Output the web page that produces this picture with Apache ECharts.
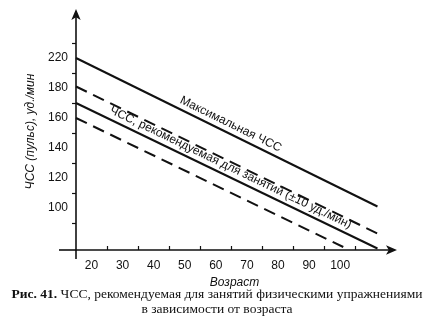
<!DOCTYPE html>
<html>
<head>
<meta charset="utf-8">
<script src="https://cdn.jsdelivr.net/npm/echarts@6/dist/echarts.min.js"></script>
<style>
html,body{margin:0;padding:0;background:#fff;}
#c{width:434px;height:328px;}
</style>
</head>
<body>
<div id="c"></div>
<script>
// ---- data ----
const xLabelAges = [20, 30, 40, 50, 60, 70, 80, 90, 100];
const xTickAges = [25, 35, 45, 55, 65, 75, 85, 95, 105];
const yLabelValues = [100, 120, 140, 160, 180, 200];
const yTickLabels = ['100', '120', '140', '160', '180', '220'];
const yTickValues = [90, 110, 130, 150, 170, 190, 210];

const maxHrAge = [15, 112];
const maxHrVal = [200, 101];
const upperAge = [15, 112];
const upperVal = [181, 83];
const recAge = [15, 112];
const recVal = [170, 73];
const lowerAge = [15, 101];
const lowerVal = [160, 74];

const maxHrLabel = 'Максимальная ЧСС';
const recLabel = 'ЧСС, рекомендуемая для занятий (±10 уд./мин)';
const yName = 'ЧСС (пульс), уд./мин';
const xName = 'Возраст';
const captionBold = 'Рис. 41.';
const captionRest = ' ЧСС, рекомендуемая для занятий физическими упражнениями';
const captionLine2 = 'в зависимости от возраста';

const pairs = (xs, ys) => xs.map((x, i) => [x, ys[i]]);

const ink = '#111';
const chart = echarts.init(document.getElementById('c'), null, {renderer: 'canvas'});

function lineSeries(name, data, dashed, label) {
  const s = {
    name: name,
    type: 'line',
    data: data,
    symbol: 'none',
    silent: true,
    lineStyle: {color: ink, width: 2, type: dashed ? [12, 7] : 'solid'}
  };
  if (label) {
    s.markLine = {
      silent: true,
      symbol: ['none', 'none'],
      lineStyle: {color: 'rgba(0,0,0,0)', width: 1, type: 'solid'},
      label: {
        show: true,
        position: 'insideMiddleTop',
        distance: 3,
        formatter: label,
        color: ink,
        fontFamily: 'Liberation Sans',
        fontSize: 12
      },
      data: [[{coord: data[0]}, {coord: data[data.length - 1]}]]
    };
  }
  return s;
}

chart.setOption({
  animation: false,
  backgroundColor: '#fff',
  title: {
    left: 'center',
    top: 282,
    text: '{b|' + captionBold + '}{n|' + captionRest + '}\n{n|' + captionLine2 + '}',
    textStyle: {
      fontWeight: 'normal',
      rich: {
        b: {fontFamily: 'Liberation Serif', fontSize: 13.5, fontWeight: 'bold', color: ink, lineHeight: 15},
        n: {fontFamily: 'Liberation Serif', fontSize: 13.5, fontWeight: 'normal', color: ink, lineHeight: 15}
      }
    }
  },
  grid: {left: 76, right: 41, top: 13, bottom: 78},
  xAxis: {
    type: 'value',
    min: 15,
    max: 117,
    name: xName,
    nameLocation: 'middle',
    nameGap: 21,
    nameTextStyle: {fontFamily: 'Liberation Sans', fontStyle: 'italic', fontSize: 12, color: ink},
    axisLine: {show: true, lineStyle: {color: ink, width: 1.6}, symbol: ['none', 'arrow'], symbolSize: [7, 11], symbolOffset: [0, 4]},
    axisTick: {show: true, inside: true, length: 4, lineStyle: {color: ink, width: 1.2}, customValues: xTickAges},
    axisLabel: {customValues: xLabelAges, color: ink, fontFamily: 'Liberation Sans', fontSize: 12, margin: 10},
    splitLine: {show: false}
  },
  yAxis: {
    type: 'value',
    min: 72,
    max: 230,
    name: yName,
    nameLocation: 'middle',
    nameRotate: 90,
    nameGap: 32,
    nameTextStyle: {fontFamily: 'Liberation Sans', fontStyle: 'italic', fontSize: 12, color: ink},
    axisLine: {show: true, lineStyle: {color: ink, width: 1.6}, symbol: ['none', 'arrow'], symbolSize: [7, 11], symbolOffset: [0, 4]},
    axisTick: {show: true, length: 4, lineStyle: {color: ink, width: 1.2}, customValues: yTickValues},
    axisLabel: {
      customValues: yLabelValues,
      color: ink, fontFamily: 'Liberation Sans', fontSize: 12, margin: 8,
      formatter: function (v) {
        const i = yLabelValues.indexOf(v);
        return i >= 0 ? yTickLabels[i] : '';
      }
    },
    splitLine: {show: false}
  },
  series: [
    lineSeries('max', pairs(maxHrAge, maxHrVal), false, maxHrLabel),
    lineSeries('upper', pairs(upperAge, upperVal), true, null),
    lineSeries('rec', pairs(recAge, recVal), false, recLabel),
    lineSeries('lower', pairs(lowerAge, lowerVal), true, null)
  ]
});

// axis overhangs past the origin
const o = chart.convertToPixel({gridIndex: 0}, [15, 72]);
chart.setOption({
  graphic: [
    {type: 'line', shape: {x1: o[0] - 17, y1: o[1], x2: o[0], y2: o[1]}, style: {stroke: ink, lineWidth: 1.6}, silent: true},
    {type: 'line', shape: {x1: o[0], y1: o[1], x2: o[0], y2: o[1] + 9}, style: {stroke: ink, lineWidth: 1.6}, silent: true}
  ]
});
</script>
</body>
</html>
